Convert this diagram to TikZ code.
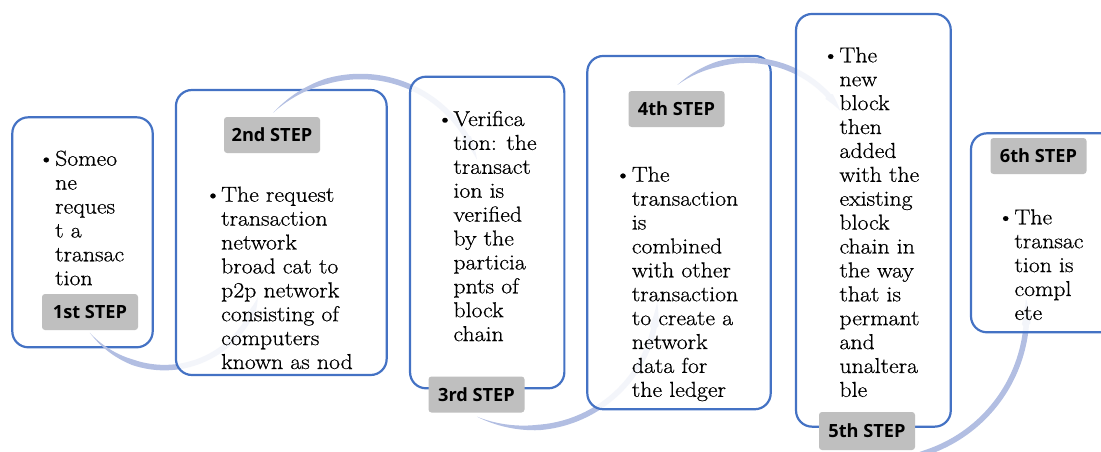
\documentclass[tikz,border=0pt]{standalone}
\usepackage{fontspec}
\newfontfamily\labelfont{Open Sans}
\newfontfamily\bodyfont{Latin Modern Roman}[FakeStretch=1.1,FakeBold=0.6]
\usetikzlibrary{calc}

\definecolor{boxblue}{RGB}{68,114,196}
\definecolor{arcblue}{RGB}{178,190,226}
\definecolor{labelgray}{RGB}{191,191,191}

% tapered circular arrow: centre x, centre y, radius, start angle, end angle, width
\newcommand\bendarrow[6]{%
  \fill[arcblue]
    plot[domain=0:1,samples=141,variable=\s]
      ({#1+(#3+#6*aw(\s)/2)*cos(#4+\s*(#5-#4))},{#2+(#3+#6*aw(\s)/2)*sin(#4+\s*(#5-#4))})
    -- plot[domain=1:0,samples=141,variable=\s]
      ({#1+(#3-#6*aw(\s)/2)*cos(#4+\s*(#5-#4))},{#2+(#3-#6*aw(\s)/2)*sin(#4+\s*(#5-#4))})
    -- cycle;}

\tikzset{
  declare function={aw(\s)=ifthenelse(\s<0.9,min(1,\s/0.25),1.6*(1-\s)/0.1);},
  stepbox/.style={draw=boxblue,line width=2.2pt,rounded corners=16pt,
    fill=white,fill opacity=0.85,inner sep=0pt},
  steplabel/.style={fill=labelgray,rounded corners=3pt,inner sep=0pt,
    minimum width=96pt,minimum height=36pt,
    font=\labelfont\bfseries\fontsize{18.2}{22}\selectfont,text=black},
  bodytext/.style={anchor=base west,inner sep=0pt},
  bulletmark/.style={anchor=base,inner sep=0pt,
    font=\bodyfont\fontsize{21.6}{23.9}\selectfont},
}
% body lines in a top-aligned box, baseline on the first line
\newcommand\lines[1]{\parbox[t]{200pt}{\bodyfont\fontsize{21.6}{23.9}\selectfont\raggedright #1}}

\begin{document}
\begin{tikzpicture}[x=1pt,y=1pt]
\useasboundingbox (0,0) rectangle (1101,451);
\clip (0,0) rectangle (1101,451);

% step 1
\node[stepbox,minimum width=140.4pt,minimum height=230pt] (b1) at (82.5,218.7) {};
\bendarrow{164.4}{180.7}{97.3}{220}{344}{5.5}
\node[steplabel] (l1) at (90,139) {1st STEP};
\node[bulletmark] (d1) at (46.3,285.3) {•};
\node[bodytext] (t1) at (55,285.3) {\lines{Someo\\ne\\reques\\t a\\transac\\tion}};

% step 2
\node[stepbox,minimum width=210.7pt,minimum height=285pt] (b2) at (281.3,218.5) {};
\bendarrow{360.5}{251.3}{123.2}{135}{19}{5.5}
\node[steplabel] (l2) at (272,316) {2nd STEP};
\node[bulletmark] (d2) at (213,249.3) {•};
\node[bodytext] (t2) at (221,249.3) {\lines{The request\\transaction\\network\\broad cat to\\p2p network\\consisting of\\computers\\known as nod}};

% step 3
\node[stepbox,minimum width=154.3pt,minimum height=311.6pt] (b3) at (487.2,218.5) {};
\bendarrow{529.1}{151.2}{128}{246}{359}{5.5}
\node[steplabel] (l3) at (476.5,56.5) {3rd STEP};
\node[bulletmark] (d3) at (445,325) {•};
\node[bodytext] (t3) at (453.3,325) {\lines{Verifica\\tion: the\\transact\\ion is\\verified\\by the\\particia\\pnts of\\block\\chain}};

% step 4
\node[stepbox,minimum width=183.4pt,minimum height=353.3pt] (b4) at (679,218.4) {};
\bendarrow{747.2}{279.9}{110.9}{129}{33}{5.5}
\node[steplabel] (l4) at (676.5,342) {4th STEP};
\node[bulletmark] (d4) at (623,269.3) {•};
\node[bodytext] (t4) at (631.7,269.3) {\lines{The\\transaction\\is\\combined\\with other\\transaction\\to create a\\network\\data for\\the ledger}};

% step 5
\node[stepbox,minimum width=154.7pt,minimum height=412.7pt] (b5) at (873.4,230.7) {};
\bendarrow{880}{137.7}{146.7}{262}{366}{5.5}
\node[steplabel,minimum height=38pt] (l5) at (867,20) {5th STEP};
\node[bulletmark] (d5) at (830.7,388.7) {•};
\node[bodytext] (t5) at (839.3,388.7) {\lines{The\\new\\block\\then\\added\\with the\\existing\\block\\chain in\\the way\\that is\\permant\\and\\unaltera\\ble}};

% step 6
\node[stepbox,minimum width=159pt,minimum height=199pt] (b6) at (1050.5,218.2) {};
\node[steplabel] (l6) at (1038.5,295) {6th STEP};
\node[bulletmark] (d6) at (1005.7,226.7) {•};
\node[bodytext] (t6) at (1014.3,226.7) {\lines{The\\transac\\tion is\\compl\\ete}};
\end{tikzpicture}
\end{document}
